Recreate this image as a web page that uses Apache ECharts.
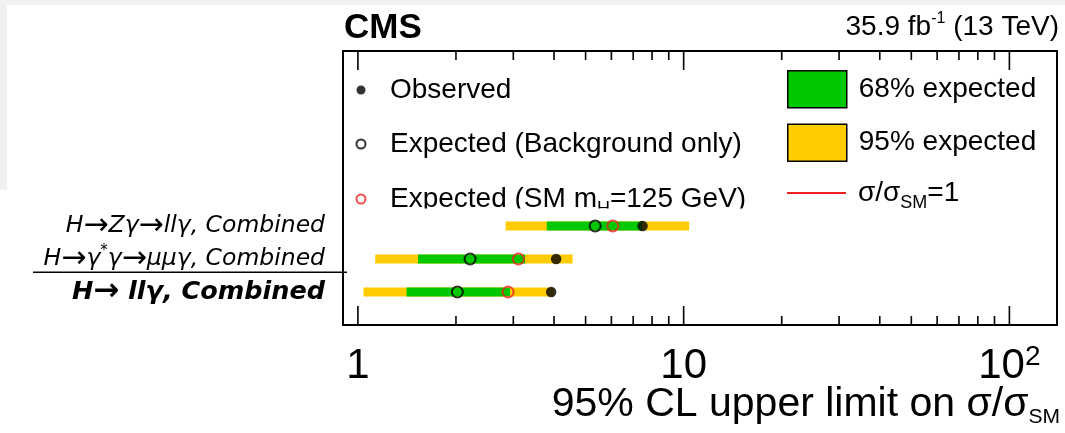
<!DOCTYPE html>
<html>
<head>
<meta charset="utf-8">
<script src="https://cdn.jsdelivr.net/npm/echarts@6/dist/echarts.min.js"></script>
<style>
  html, body { margin: 0; padding: 0; background: #fff; }
  #chart { width: 1065px; height: 433px; }
</style>
</head>
<body>
<div id="chart"></div>
<script>
// Channels from bottom to top; row position on the y axis is index + 1
const channels = ['H\u2192 ll\u03b3, Combined', 'H\u2192\u03b3*\u03b3\u2192\u03bc\u03bc\u03b3, Combined', 'H\u2192Z\u03b3\u2192ll\u03b3, Combined'];

// 95% CL upper limits on sigma / sigma_SM
const observed    = [3.92, 4.06, 7.48];
const expectedBkg = [2.02, 2.21, 5.35];
const expectedSM  = [2.89, 3.11, 6.06];
const band68Low   = [1.41, 1.53, 3.80];
const band68High  = [2.93, 3.26, 7.45];
const band95Low   = [1.04, 1.13, 2.84];
const band95High  = [4.00, 4.56, 10.4];

// Log-axis ticks
const majorTicks = [1, 10, 100];
const minorTicks = [2, 3, 4, 5, 6, 7, 8, 9, 20, 30, 40, 50, 60, 70, 80, 90];
const xTickLabels = { 1: '{b|1}', 10: '{b|10}', 100: '{b|10}{sup|2}' };

// Separator between the combined result and the individual channels
const dividerAt = 1.6;

const FONT = "'Liberation Sans', Arial, Helvetica, sans-serif";
const LABEL_FONT = "'DejaVu Sans', sans-serif";
const GREEN = '#00c800';
const YELLOW = '#ffcc00';
const RED = '#f02020';

const rows = channels.map((_, i) => i + 1);
const pts = arr => arr.map((v, i) => [v, rows[i]]);
const bands = (lo, hi) => lo.map((v, i) => [v, hi[i], rows[i]]);

function bandItem(params, api) {
  const a = api.coord([api.value(0), api.value(2)]);
  const b = api.coord([api.value(1), api.value(2)]);
  return {
    type: 'rect',
    shape: { x: a[0], y: a[1] - 4.5, width: b[0] - a[0], height: 9 },
    style: { fill: api.visual('color') }
  };
}

function tickRenderer(len) {
  return function (params, api) {
    const x = api.coord([api.value(0), 1])[0];
    const cs = params.coordSys;
    const bottom = cs.y + cs.height;
    const st = { stroke: '#000', lineWidth: 1.6 };
    return {
      type: 'group',
      children: [
        { type: 'line', shape: { x1: x, y1: bottom, x2: x, y2: bottom - len }, style: st },
        { type: 'line', shape: { x1: x, y1: cs.y, x2: x, y2: cs.y + len }, style: st }
      ]
    };
  };
}

function dividerItem(params, api) {
  const p = api.coord([api.value(0), api.value(1)]);
  const cs = params.coordSys;
  return {
    type: 'line',
    shape: { x1: cs.x - 310, y1: p[1], x2: cs.x + 4, y2: p[1] },
    style: { stroke: '#000', lineWidth: 1.6 }
  };
}

// Channel label: oblique text, wide arrows, superscript star; combined row in bold
function channelLabel(k) {
  const bold = k === 1;
  const t = bold ? 'bi' : 'i';
  const a = bold ? 'ab' : 'a';
  let out = '';
  for (const ch of channels[k - 1]) {
    if (ch === '\u2192') out += '{' + a + '|\u2192}';
    else if (ch === '*') out += '{sup|*}';
    else out += '{' + t + '|' + ch + '}';
  }
  return out;
}

// Legend text: subscripts sit low in the line, partly hidden under the legend's lower edge
const legendRich = {
  n: { fontFamily: FONT, fontSize: 28, lineHeight: 30, color: '#000' },
  s: { fontFamily: FONT, fontSize: 18, lineHeight: 18, padding: [16, 0, 0, 0], verticalAlign: 'top', color: '#000' }
};

const chart = echarts.init(document.getElementById('chart'), null, { renderer: 'canvas' });

chart.setOption({
  animation: false,
  backgroundColor: '#fff',
  textStyle: { fontFamily: FONT },
  title: [
    {
      text: 'CMS', left: 344, top: 8, padding: 0,
      textStyle: { fontFamily: FONT, fontWeight: 'bold', fontSize: 35, lineHeight: 40, color: '#000' }
    },
    {
      text: '{n|35.9 fb}{sup|-1}{n| (13 TeV)}', right: 6, top: 11, padding: 0,
      textStyle: {
        fontWeight: 'normal',
        rich: {
          n: { fontFamily: FONT, fontWeight: 'normal', fontSize: 28, lineHeight: 32, color: '#000' },
          sup: { fontFamily: FONT, fontWeight: 'normal', fontSize: 16, lineHeight: 16, verticalAlign: 'top', color: '#000' }
        }
      }
    },
    {
      // x-axis title
      text: '{n|95% CL upper limit on \u03c3/\u03c3}{s|SM}', right: 5, top: 382, padding: 0,
      textStyle: {
        fontWeight: 'normal',
        rich: {
          n: { fontFamily: FONT, fontWeight: 'normal', fontSize: 41, lineHeight: 46, color: '#000' },
          s: { fontFamily: FONT, fontWeight: 'normal', fontSize: 21, lineHeight: 10, verticalAlign: 'bottom', color: '#000' }
        }
      }
    }
  ],
  graphic: [
    { type: 'rect', left: 0, top: 0, shape: { width: 1065, height: 5 }, style: { fill: '#f1f1f1' }, silent: true },
    { type: 'rect', left: 0, top: 0, shape: { width: 7, height: 190 }, style: { fill: '#f1f1f1' }, silent: true },
    { type: 'rect', left: 352, top: 208.5, shape: { width: 700, height: 9 }, style: { fill: '#fff' }, z: 100, silent: true }
  ],
  grid: {
    left: 343, top: 51, width: 714, height: 274,
    containLabel: false, outerBoundsMode: 'none',
    show: true, borderColor: '#000', borderWidth: 2, backgroundColor: 'transparent'
  },
  legend: [
    {
      data: ['Observed', 'Expected (Background only)', 'Expected (SM mH=125 GeV)'],
      orient: 'vertical', left: 355.5, top: 76, padding: 0,
      itemWidth: 9, itemHeight: 9, itemGap: 26, selectedMode: false,
      formatter: name => name === 'Expected (SM mH=125 GeV)'
        ? '{n|Expected (SM m}{s|H}{n|=125 GeV)}' : '{n|' + name + '}',
      textStyle: { padding: [0, 0, 0, 19.5], rich: legendRich }
    },
    {
      data: ['68% expected', '95% expected'],
      orient: 'vertical', left: 787, top: 70, padding: 0,
      itemWidth: 59, itemHeight: 37, itemGap: 15, selectedMode: false, icon: 'rect',
      itemStyle: { borderColor: '#000', borderWidth: 1.5 },
      textStyle: { fontFamily: FONT, fontSize: 28, lineHeight: 30, color: '#000', padding: [0, 0, 0, 7] }
    },
    {
      data: ['\u03c3/\u03c3SM=1'],
      orient: 'vertical', left: 787, top: 178, padding: 0,
      itemWidth: 59, itemHeight: 2, selectedMode: false, icon: 'rect',
      itemStyle: { color: RED, borderWidth: 0 },
      formatter: () => '{n|\u03c3/\u03c3}{s|SM}{n|=1}',
      textStyle: { padding: [0, 0, 0, 7], rich: legendRich }
    }
  ],
  xAxis: {
    type: 'log', logBase: 10, min: 0.9, max: 140,
    axisLine: { show: false }, axisTick: { show: false }, splitLine: { show: false },
    axisLabel: {
      margin: 18,
      showMinLabel: false, showMaxLabel: false,
      formatter: v => {
        const k = Math.round(v);
        return Math.abs(v - k) < 1e-6 && xTickLabels[k] ? xTickLabels[k] : '';
      },
      rich: {
        b: { fontFamily: FONT, fontSize: 42, lineHeight: 46, color: '#000' },
        sup: { fontFamily: FONT, fontSize: 28, lineHeight: 28, verticalAlign: 'top', color: '#000' }
      }
    }
  },
  yAxis: {
    type: 'value', min: 0, max: 8.3, interval: 1,
    axisLine: { show: false }, axisTick: { show: false }, splitLine: { show: false },
    axisLabel: {
      margin: 18, showMaxLabel: false,
      formatter: v => {
        const k = Math.round(v);
        if (Math.abs(v - k) > 1e-6 || k < 1 || k > channels.length) return '';
        return channelLabel(k);
      },
      rich: {
        i: { fontFamily: LABEL_FONT, fontStyle: 'italic', fontSize: 23.5, color: '#000' },
        a: { fontFamily: LABEL_FONT, fontSize: 30, color: '#000' },
        bi: { fontFamily: LABEL_FONT, fontStyle: 'italic', fontWeight: 'bold', fontSize: 25.5, color: '#000' },
        ab: { fontFamily: LABEL_FONT, fontWeight: 'bold', fontSize: 31, color: '#000' },
        sup: { fontFamily: LABEL_FONT, fontStyle: 'italic', fontSize: 15, lineHeight: 15, verticalAlign: 'top', color: '#000' }
      }
    }
  },
  series: [
    {
      name: '95% expected', type: 'custom', renderItem: bandItem,
      itemStyle: { color: YELLOW }, encode: { x: [0, 1], y: 2 },
      data: bands(band95Low, band95High), z: 2
    },
    {
      name: '68% expected', type: 'custom', renderItem: bandItem,
      itemStyle: { color: GREEN }, encode: { x: [0, 1], y: 2 },
      data: bands(band68Low, band68High), z: 3
    },
    {
      name: 'Expected (Background only)', type: 'scatter', symbol: 'circle', symbolSize: 11,
      itemStyle: { color: 'transparent', borderColor: '#000', borderWidth: 2 },
      data: pts(expectedBkg), z: 4
    },
    {
      name: 'Expected (SM mH=125 GeV)', type: 'scatter', symbol: 'circle', symbolSize: 11,
      itemStyle: { color: 'transparent', borderColor: RED, borderWidth: 2 },
      data: pts(expectedSM), z: 5
    },
    {
      name: 'Observed', type: 'scatter', symbol: 'circle', symbolSize: 10.5,
      itemStyle: { color: '#000' },
      data: pts(observed), z: 6
    },
    {
      name: '\u03c3/\u03c3SM=1', type: 'line', symbol: 'none', data: [],
      lineStyle: { color: RED, width: 2 }, itemStyle: { color: RED }
    },
    {
      type: 'custom', renderItem: tickRenderer(19), silent: true,
      data: majorTicks.map(v => [v, 1]), encode: { x: 0, y: 1 }, z: 10
    },
    {
      type: 'custom', renderItem: tickRenderer(9), silent: true,
      data: minorTicks.map(v => [v, 1]), encode: { x: 0, y: 1 }, z: 10
    },
    {
      type: 'custom', renderItem: dividerItem, silent: true,
      data: [[1, dividerAt]], encode: { x: 0, y: 1 }, z: 10
    }
  ]
});
</script>
</body>
</html>
